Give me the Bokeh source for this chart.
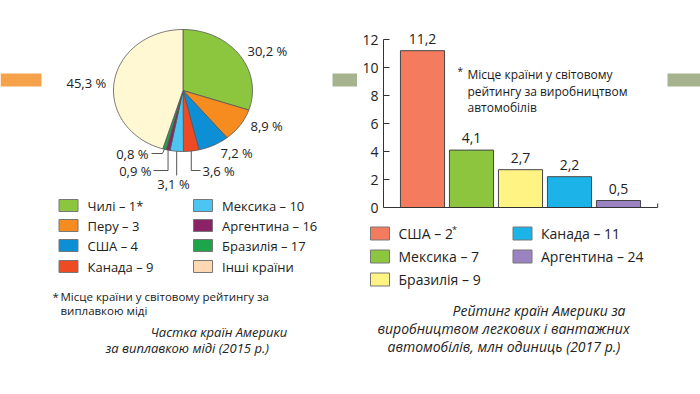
import math
from bokeh.plotting import figure
from bokeh.models import Range1d, FixedTicker, ColumnDataSource
from bokeh.layouts import row, column
from bokeh.core.properties import value
from bokeh.embed import file_html
from bokeh.resources import INLINE

FONT = "Open Sans"

# ---------------- data: copper smelting share (2015) ----------------
pie_countries = ["Чилі", "Перу", "США", "Канада", "Мексика", "Аргентина", "Бразилія", "Інші країни"]
pie_ranks = ["1*", "3", "4", "9", "10", "16", "17", ""]
pie_shares = [30.2, 8.9, 7.2, 3.6, 3.1, 0.9, 0.8, 45.3]
pie_colors = ["#8cc63e", "#f68b1f", "#0d8fd6", "#ee4b24", "#4cc5f2", "#8c2368", "#1ea54a", "#fff8d2"]
pie_legend_colors = pie_colors[:7] + ["#fdd9b3"]

# ---------------- data: car production (2017) ----------------
car_countries = ["США", "Мексика", "Бразилія", "Канада", "Аргентина"]
car_ranks = ["2", "7", "9", "11", "24"]
car_values = [11.2, 4.1, 2.7, 2.2, 0.5]
car_colors = ["#f47b5e", "#8cc63e", "#fff383", "#1cb3e8", "#9b82c2"]
y_ticks = [0, 2, 4, 6, 8, 10, 12]

TXT = "#222222"


def fmt(v):
    return ("%.1f" % v).replace(".", ",")


def blank(fig):
    fig.xaxis.visible = False
    fig.yaxis.visible = False
    fig.xgrid.visible = False
    fig.ygrid.visible = False
    fig.outline_line_color = None


def txt(fig, x, y, s, size, style="normal", align="left", color=TXT, **kw):
    fig.text(x=[x], y=[y], text=[s], text_font=value(FONT), text_font_size=size,
             text_font_style=style, text_align=align, text_baseline="middle",
             text_color=color, **kw)


# ================= LEFT: pie =================
left = figure(width=357, height=394, x_range=Range1d(0, 357), y_range=Range1d(394, 0),
              output_backend="svg", toolbar_location=None, min_border=0, frame_align=False)
blank(left)

# decorative strips
left.quad(left=[0], right=[41], top=[73], bottom=[86], fill_color="#f5a24a", line_color=None)
left.quad(left=[332], right=[357], top=[73], bottom=[86], fill_color="#a5b48e", line_color=None)

cx, cy, rx, ry = 182.5, 90.0, 69.5, 61.0
total = sum(pie_shares)
xs, ys, mids = [], [], []
cum = 0.0
for s in pie_shares:
    a0 = cum / total * 2 * math.pi
    a1 = (cum + s) / total * 2 * math.pi
    n = max(3, int(s * 2))
    px = [cx]
    py = [cy]
    for k in range(n + 1):
        t = a0 + (a1 - a0) * k / n
        px.append(cx + rx * math.sin(t))
        py.append(cy - ry * math.cos(t))
    xs.append(px)
    ys.append(py)
    tm = (a0 + a1) / 2
    mids.append((cx + rx * math.sin(tm), cy - ry * math.cos(tm)))
    cum += s
left.patches(xs=xs, ys=ys, fill_color=pie_colors, line_color="#555555", line_width=0.8)

# pie labels
lab = [fmt(v) + " %" for v in pie_shares]
txt(left, 247, 50, lab[0], "13px")
txt(left, 250, 125, lab[1], "13px")
txt(left, 220, 152, lab[2], "13px")
txt(left, 202, 170, lab[3], "13px")
txt(left, 173, 183, lab[4], "13px", align="center")
txt(left, 151, 170, lab[5], "13px", align="right")
txt(left, 148, 153, lab[6], "13px", align="right")
txt(left, 66, 82, lab[7], "13px")

# leader lines
m3, m4, m5, m6 = mids[3], mids[4], mids[5], mids[6]
left.multi_line(
    xs=[[m3[0], m3[0], 200], [m4[0], m4[0]], [m5[0], m5[0], 153], [m6[0], m6[0] - 2, 151]],
    ys=[[m3[1], 170, 170], [m4[1], 175], [m5[1], 170, 170], [m6[1], 153, 153]],
    line_color="#555555", line_width=1)

# left legend
lx = [68, 68, 68, 68, 202.5, 202.5, 202.5, 202.5]
ly = [205, 225, 245, 266, 205, 225, 245, 266]
left.rect(x=lx, y=ly, width=19, height=12, fill_color=pie_legend_colors, line_color="#777777", line_width=1)
for i, c in enumerate(pie_countries):
    label = c + (" – " + pie_ranks[i] if pie_ranks[i] else "")
    txt(left, lx[i] + 19, ly[i], label, "13px")

# footnote
txt(left, 52, 296, "*", "11.5px", color="#1a1a1a")
txt(left, 60, 296, "Місце країни у світовому рейтингу за", "11.5px", color="#1a1a1a")
txt(left, 60, 310, "виплавкою міді", "11.5px", color="#1a1a1a")

# caption
txt(left, 150, 331, "Частка країн Америки", "13px", style="italic")
txt(left, 105, 347, "за виплавкою міді (2015 р.)", "13px", style="italic")

# ================= RIGHT TOP: bar chart =================
px_per_unit = 14.0
zero_px = 207.0
bars_h = 218
bars = figure(width=343, height=bars_h, x_range=Range1d(-39 / 49, (700 - 422) / 49),
              y_range=Range1d(-(bars_h - zero_px) / px_per_unit, zero_px / px_per_unit),
              output_backend="svg", toolbar_location=None, frame_align=False,
              min_border_left=26, min_border_right=0, min_border_top=0, min_border_bottom=0)
bars.xgrid.visible = False
bars.ygrid.visible = False
bars.xaxis.visible = False
bars.outline_line_color = None
bars.extra_x_ranges = {"px": Range1d(383, 700)}
bars.extra_y_ranges = {"px": Range1d(bars_h, 0)}

src = ColumnDataSource(dict(x=list(range(len(car_values))), top=car_values, color=car_colors,
                            label=[fmt(v) for v in car_values]))
bars.vbar(x="x", top="top", width=0.9, bottom=0, fill_color="color", line_color="#444444",
          line_width=1, source=src)
bars.text(x="x", y="top", text="label", source=src, text_font=value(FONT), text_font_size="14px",
          text_align="center", text_baseline="middle", y_offset=-12, text_color=TXT)

# baseline (x axis line) with end tick
bars.segment(x0=[-0.8, 4.8], y0=[0, 0], x1=[4.8, 4.8], y1=[0, 4 / px_per_unit],
             line_color="#333333", line_width=1)

ya = bars.yaxis[0]
ya.ticker = FixedTicker(ticks=y_ticks)
ya.bounds = (0, 12)
ya.major_tick_in = 6
ya.major_tick_out = 0
ya.minor_tick_line_color = None
ya.axis_line_color = "#333333"
ya.major_tick_line_color = "#333333"
ya.major_label_text_font = FONT
ya.major_label_text_font_size = "14px"
ya.major_label_text_color = TXT
ya.major_label_standoff = 5

bars.quad(left=[667], right=[700], top=[73], bottom=[86], fill_color="#a5b48e", line_color=None,
          x_range_name="px", y_range_name="px")
for xx, yy, s, fs in [(457, 70, "*", "10px"), (467, 74, "Місце країни у світовому", "12px"),
                      (467, 91, "рейтингу за виробництвом", "12px"), (467, 107, "автомобілів", "12px")]:
    bars.text(x=[xx], y=[yy], text=[s], text_font=value(FONT), text_font_size=fs,
              text_baseline="middle", text_color="#1a1a1a", x_range_name="px", y_range_name="px")

# ================= RIGHT BOTTOM: legend + caption =================
bottom = figure(width=343, height=394 - bars_h, x_range=Range1d(357, 700), y_range=Range1d(394, bars_h),
                output_backend="svg", toolbar_location=None, min_border=0, frame_align=False)
blank(bottom)
bx = [379.5, 379.5, 379.5, 522, 522]
by = [233, 256, 279, 233, 256]
bottom.rect(x=bx, y=by, width=19, height=13, fill_color=car_colors, line_color="#777777", line_width=1)
for i, c in enumerate(car_countries):
    txt(bottom, bx[i] + 18.5, by[i], c + " – " + car_ranks[i], "14px")
txt(bottom, 451.5, 229, "*", "9px")

txt(bottom, 452, 310, "Рейтинг країн Америки за", "14px", style="italic")
txt(bottom, 377, 328, "виробництвом легкових і вантажних", "14px", style="italic")
txt(bottom, 387, 346, "автомобілів, млн одиниць (2017 р.)", "14px", style="italic")

layout = row(left, column(bars, bottom, spacing=0), spacing=0)
open("out.html", "w").write(file_html(layout, INLINE))
